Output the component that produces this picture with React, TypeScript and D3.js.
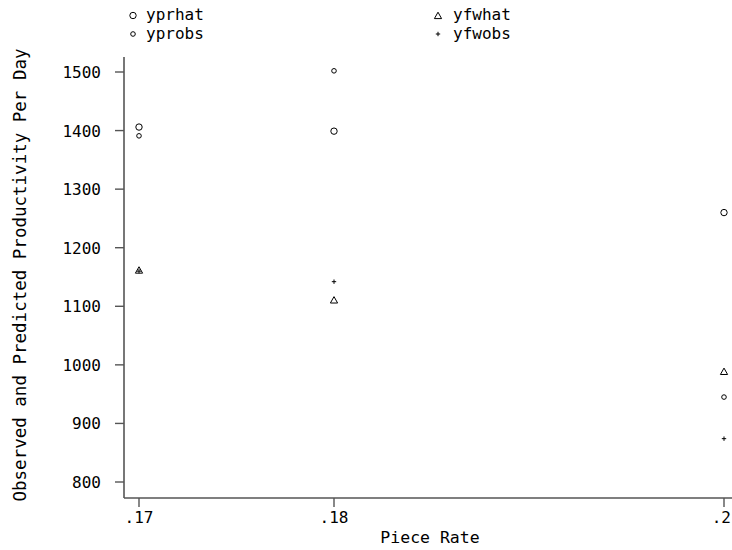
import React from "react";
import * as d3 from "d3";

const pieceRates = [0.17, 0.18, 0.2];
const yprhat = [1406, 1399, 1260];
const yprobs = [1391, 1502, 945];
const yfwhat = [1161, 1110, 988];
const yfwobs = [1160, 1142, 874];
const xTicks = [0.17, 0.18, 0.2];
const xTickLabels = [".17", ".18", ".2"];
const yTicks = [800, 900, 1000, 1100, 1200, 1300, 1400, 1500];

const FONT = "'DejaVu Sans Mono', monospace";

export default function App() {
  const W = 732, H = 550;
  const axisLeft = 124, axisBottom = 498, axisTop = 57, axisRight = 732;
  const x = d3.scaleLinear().domain([0.17, 0.2]).range([139, 724]);
  const y = d3.scaleLinear().domain([800, 1500]).range([482, 72]);

  const tri = (cx: number, cy: number) =>
    `M${cx},${cy - 3.8}L${cx + 3.6},${cy + 2.6}L${cx - 3.6},${cy + 2.6}Z`;
  const plus = (cx: number, cy: number) =>
    `M${cx - 2.2},${cy}H${cx + 2.2}M${cx},${cy - 2.2}V${cy + 2.2}`;

  return (
    <svg width={W} height={H} style={{ position: "absolute", left: 0, top: 0, background: "#fff" }}>
      <rect width={W} height={H} fill="#fff" />
      {/* legend */}
      <g fontFamily={FONT} fontSize={16} fill="#000">
        <circle cx={133} cy={15.5} r={3.2} fill="none" stroke="#000" strokeWidth={1} />
        <text x={146} y={20}>yprhat</text>
        <circle cx={133} cy={34} r={2.3} fill="none" stroke="#000" strokeWidth={1} />
        <text x={146} y={39}>yprobs</text>
        <path d={tri(438, 16)} fill="none" stroke="#000" strokeWidth={1} />
        <text x={453} y={20}>yfwhat</text>
        <path d={plus(438, 34)} fill="none" stroke="#000" strokeWidth={1} />
        <text x={453} y={39}>yfwobs</text>
      </g>
      {/* axes */}
      <line x1={axisLeft} x2={axisLeft} y1={axisTop} y2={axisBottom} stroke="#555" strokeWidth={1.6} />
      <line x1={axisLeft} x2={axisRight} y1={axisBottom} y2={axisBottom} stroke="#555" strokeWidth={1.6} />
      <g fontFamily={FONT} fontSize={16} fill="#000">
        {yTicks.map((t) => (
          <g key={t}>
            <line x1={axisLeft - 9} x2={axisLeft} y1={y(t)} y2={y(t)} stroke="#555" strokeWidth={1.4} />
            <text x={101} y={y(t) + 6} textAnchor="end">{t}</text>
          </g>
        ))}
        {xTicks.map((t, i) => {
          const last = i === xTicks.length - 1;
          return (
            <g key={t}>
              <line x1={x(t)} x2={x(t)} y1={axisBottom} y2={axisBottom + 9} stroke="#555" strokeWidth={1.4} />
              <text x={last ? 731 : x(t)} y={523} textAnchor={last ? "end" : "middle"}>{xTickLabels[i]}</text>
            </g>
          );
        })}
        <text x={430} y={543} textAnchor="middle" fontSize={16.5}>Piece Rate</text>
        <text transform={`translate(26,275) rotate(-90)`} textAnchor="middle" fontSize={17.5}>
          Observed and Predicted Productivity Per Day
        </text>
      </g>
      {/* points */}
      <g fill="none" stroke="#000" strokeWidth={1}>
        {pieceRates.map((p, i) => (
          <g key={p}>
            <circle cx={x(p)} cy={y(yprhat[i])} r={3.2} />
            <circle cx={x(p)} cy={y(yprobs[i])} r={2.3} />
            <path d={tri(x(p), y(yfwhat[i]))} />
            <path d={plus(x(p), y(yfwobs[i]))} />
          </g>
        ))}
      </g>
    </svg>
  );
}
